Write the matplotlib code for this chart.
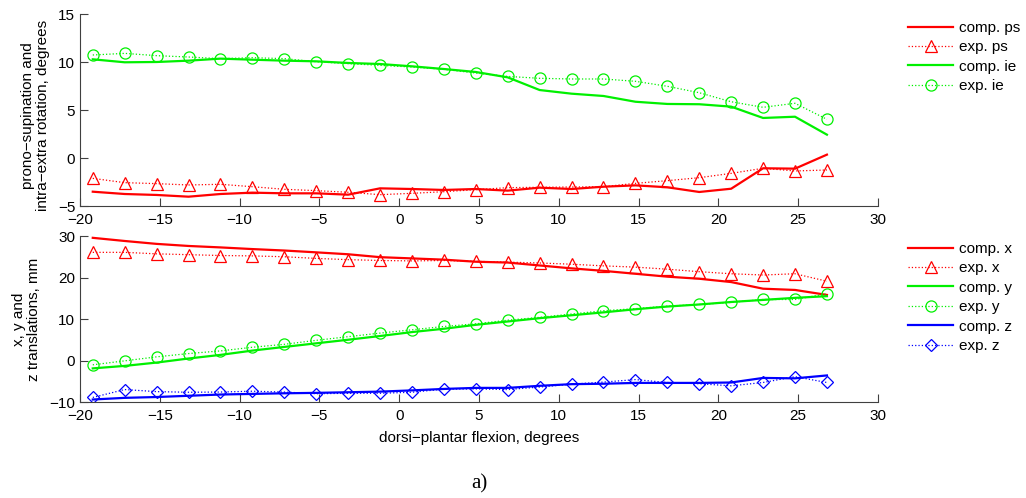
import numpy as np
import matplotlib
matplotlib.use('Agg')
import matplotlib.pyplot as plt

# flexion angles (degrees) at which comp/exp values are sampled
flexion = [-19.2, -17.2, -15.2, -13.2, -11.2, -9.2, -7.2, -5.2, -3.2, -1.2, 0.8, 2.8,
           4.8, 6.8, 8.8, 10.8, 12.8, 14.8, 16.8, 18.8, 20.8, 22.8, 24.8, 26.8]

# top panel: rotations, degrees
comp_ps = [-3.51, -3.75, -3.85, -4.03, -3.75, -3.61, -3.68, -3.68, -3.82, -3.16, -3.23, -3.33,
           -3.23, -3.4, -3.09, -3.23, -2.99, -2.85, -3.05, -3.54, -3.2, -1.07, -1.11, 0.35]
exp_ps = [-2.12, -2.57, -2.67, -2.81, -2.74, -2.99, -3.26, -3.4, -3.57, -3.82, -3.68, -3.51,
          -3.3, -3.09, -3.05, -3.02, -2.99, -2.64, -2.36, -2.05, -1.6, -1.07, -1.35, -1.25]
comp_ie = [10.28, 9.97, 10.0, 10.14, 10.35, 10.24, 10.14, 10.07, 9.9, 9.79, 9.55, 9.27,
           8.96, 8.4, 7.08, 6.7, 6.46, 5.86, 5.63, 5.6, 5.35, 4.17, 4.3, 2.43]
exp_ie = [10.73, 10.9, 10.66, 10.52, 10.35, 10.45, 10.35, 10.03, 9.83, 9.65, 9.48, 9.24,
          8.85, 8.5, 8.3, 8.23, 8.23, 7.99, 7.47, 6.8, 5.86, 5.28, 5.7, 4.03]

# bottom panel: translations, mm
comp_x = [29.56, 28.8, 28.1, 27.6, 27.25, 26.85, 26.5, 26.06, 25.6, 24.9, 24.6, 24.3,
          23.8, 23.6, 22.9, 22.2, 21.6, 20.9, 20.2, 19.7, 18.9, 17.3, 17.0, 15.8]
exp_x = [26.06, 26.06, 25.7, 25.5, 25.3, 25.2, 25.0, 24.6, 24.3, 24.1, 24.0, 24.1,
         23.9, 23.7, 23.5, 23.2, 22.8, 22.5, 22.0, 21.4, 20.9, 20.6, 20.9, 19.1]
comp_y = [-1.9, -1.3, -0.5, 0.48, 1.35, 2.39, 3.27, 4.14, 5.0, 5.9, 6.85, 7.65,
          8.6, 9.4, 10.2, 10.9, 11.6, 12.35, 13.0, 13.5, 14.1, 14.6, 15.1, 15.5]
exp_y = [-1.04, -0.08, 0.88, 1.67, 2.31, 3.19, 3.9, 4.86, 5.74, 6.6, 7.4, 8.2,
         8.84, 9.72, 10.4, 11.2, 12.0, 12.5, 13.1, 13.5, 14.0, 14.7, 14.7, 16.1]
comp_z = [-9.4, -9.0, -8.8, -8.5, -8.2, -8.05, -7.9, -7.8, -7.65, -7.5, -7.2, -6.85,
          -6.6, -6.6, -6.1, -5.7, -5.6, -5.4, -5.4, -5.4, -5.3, -4.2, -4.3, -3.6]
exp_z = [-8.9, -7.0, -7.5, -7.65, -7.6, -7.4, -7.6, -8.0, -7.9, -7.9, -7.65, -6.9,
         -6.85, -7.0, -6.4, -5.7, -5.2, -4.6, -5.3, -5.6, -6.1, -5.3, -3.9, -5.3]

plt.rcParams['font.family'] = ['Liberation Sans', 'DejaVu Sans']
plt.rcParams['font.size'] = 11

RED, GREEN, BLUE = '#ff0000', '#00f000', '#0000ff'

W, H = 1026, 498
fig = plt.figure(figsize=(W / 100, H / 100), dpi=100)

def box(l, t, r, b):
    return [l / W, 1 - b / H, (r - l) / W, (b - t) / H]

ax1 = fig.add_axes(box(80, 14, 878, 206))
ax2 = fig.add_axes(box(80, 236, 878, 402))

def style(ax):
    ax.spines['top'].set_visible(False)
    ax.spines['right'].set_visible(False)
    for s in ('left', 'bottom'):
        ax.spines[s].set_color('#404040')
    ax.tick_params(direction='in', length=6, colors='#404040', labelcolor='black')
    ax.tick_params(axis='x', pad=5)
    ax.set_xlim(-20, 30)
    ax.set_xticks(np.arange(-20, 31, 5))

comp_kw = dict(lw=1.6)
exp_kw = dict(ls=':', lw=0.9, mfc='none', mew=0.9)

ax1.plot(flexion, comp_ps, color=RED, label='comp. ps', **comp_kw)
ax1.plot(flexion, exp_ps, color=RED, marker='^', ms=8.5, label='exp. ps', **exp_kw)
ax1.plot(flexion, comp_ie, color=GREEN, label='comp. ie', **comp_kw)
ax1.plot(flexion, exp_ie, color=GREEN, marker='o', ms=8, label='exp. ie', **exp_kw)
style(ax1)
ax1.set_ylim(-5, 15)
ax1.set_yticks([-5, 0, 5, 10, 15])
ax1.set_ylabel('prono\u2212supination and\nintra\u2212extra rotation, degrees', linespacing=1.1)
ax1.yaxis.set_label_coords(-0.037, 0.47)

ax2.plot(flexion, comp_x, color=RED, label='comp. x', **comp_kw)
ax2.plot(flexion, exp_x, color=RED, marker='^', ms=8.5, label='exp. x', **exp_kw)
ax2.plot(flexion, comp_y, color=GREEN, label='comp. y', **comp_kw)
ax2.plot(flexion, exp_y, color=GREEN, marker='o', ms=8, label='exp. y', **exp_kw)
ax2.plot(flexion, comp_z, color=BLUE, label='comp. z', **comp_kw)
ax2.plot(flexion, exp_z, color=BLUE, marker='D', ms=6.5, label='exp. z', **exp_kw)
style(ax2)
ax2.set_ylim(-10, 30)
ax2.set_yticks([-10, 0, 10, 20, 30])
ax2.set_ylabel('x, y and\nz translations, mm', linespacing=1.1)
ax2.yaxis.set_label_coords(-0.049, 0.5)
ax2.set_xlabel('dorsi\u2212plantar flexion, degrees', labelpad=6)

leg_kw = dict(frameon=False, numpoints=1, handlelength=2.95, handletextpad=0.4,
              labelspacing=0.35, borderaxespad=0, fontsize=11)
ax1.legend(loc='upper left', bbox_to_anchor=(1.03, 0.995), **leg_kw)
ax2.legend(loc='upper left', bbox_to_anchor=(1.03, 1.0), **leg_kw)

fig.text(479 / W, 1 - 484 / H, 'a)', ha='center', va='center',
         family=['Liberation Serif', 'DejaVu Serif'], fontsize=15)

fig.savefig('out.png', dpi=100)
